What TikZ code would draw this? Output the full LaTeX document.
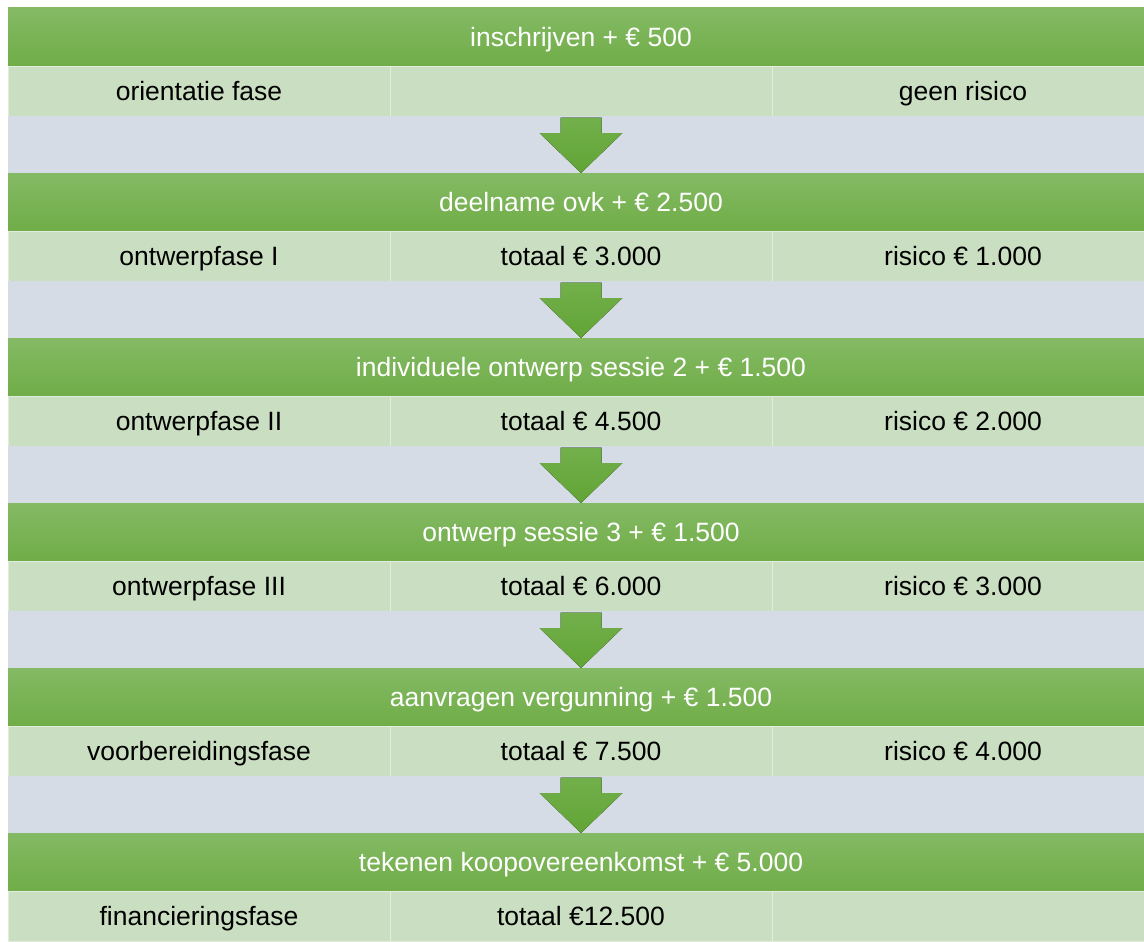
\documentclass[tikz,border=0pt]{standalone}
\usepackage{fontspec}
\setmainfont{Liberation Sans}
\usetikzlibrary{calc}
\definecolor{gtop}{HTML}{84BA64}
\definecolor{gbot}{HTML}{70AD47}
\definecolor{lightg}{HTML}{CADFC1}
\definecolor{grayb}{HTML}{D6DCE5}
\definecolor{atop}{HTML}{72B04B}
\definecolor{abot}{HTML}{62A436}
\tikzset{
 txt/.style={font=\fontsize{26.5}{30}\selectfont, text height=20.5pt, text depth=1.5pt},
 band/.style={txt, minimum width=1146pt, minimum height=58pt, inner sep=0pt, outer sep=0pt, anchor=north west, top color=gtop, bottom color=gbot, draw=none, text=white},
 cell/.style={txt, minimum width=382pt, minimum height=50pt, inner sep=0pt, outer sep=0pt, anchor=north west, fill=lightg, draw=lightg!55!white, line width=0.8pt, text=black},
 gap/.style={minimum width=1146pt, minimum height=57pt, inner sep=0pt, outer sep=0pt, anchor=north west, fill=grayb, draw=none},
 blockarrow/.style={top color=atop, bottom color=abot, draw=none}
}
\begin{document}
\begin{tikzpicture}[x=1pt,y=-1pt]
\useasboundingbox (0,0) rectangle (1144,942);
\clip (0,0) rectangle (1144,942);
\fill[white] (0,0) rectangle (1144,942);
% row 1
\node[band] (h1) at (8,8) {inschrijven + € 500};
\node[cell] (a1) at (8,66) {orientatie fase};
\node[cell] (b1) at (390,66) {};
\node[cell] (c1) at (772,66) {geen risico};
\node[gap] (g1) at (8,116) {};
% row 2
\node[band] (h2) at (8,173) {deelname ovk + € 2.500};
\node[cell] (a2) at (8,231) {ontwerpfase I};
\node[cell] (b2) at (390,231) {totaal € 3.000};
\node[cell] (c2) at (772,231) {risico € 1.000};
\node[gap] (g2) at (8,281) {};
% row 3
\node[band] (h3) at (8,338) {individuele ontwerp sessie 2 + € 1.500};
\node[cell] (a3) at (8,396) {ontwerpfase II};
\node[cell] (b3) at (390,396) {totaal € 4.500};
\node[cell] (c3) at (772,396) {risico € 2.000};
\node[gap] (g3) at (8,446) {};
% row 4
\node[band] (h4) at (8,503) {ontwerp sessie 3 + € 1.500};
\node[cell] (a4) at (8,561) {ontwerpfase III};
\node[cell] (b4) at (390,561) {totaal € 6.000};
\node[cell] (c4) at (772,561) {risico € 3.000};
\node[gap] (g4) at (8,611) {};
% row 5
\node[band] (h5) at (8,668) {aanvragen vergunning + € 1.500};
\node[cell] (a5) at (8,726) {voorbereidingsfase};
\node[cell] (b5) at (390,726) {totaal € 7.500};
\node[cell] (c5) at (772,726) {risico € 4.000};
\node[gap] (g5) at (8,776) {};
% row 6
\node[band] (h6) at (8,833) {tekenen koopovereenkomst + € 5.000};
\node[cell] (a6) at (8,891) {financieringsfase};
\node[cell] (b6) at (390,891) {totaal €12.500};
\node[cell] (c6) at (772,891) {};
% arrows
\foreach \g/\h in {g1/h2,g2/h3,g3/h4,g4/h5,g5/h6}{
  \fill[blockarrow] ($(\g.north)+(-20.5,1.5)$) -- ($(\g.north)+(20.5,1.5)$) -- ($(\g.north)+(20.5,17)$) -- ($(\g.north)+(41.5,17)$) -- (\h.north) -- ($(\g.north)+(-41.5,17)$) -- ($(\g.north)+(-20.5,17)$) -- cycle;
}
\end{tikzpicture}
\end{document}
